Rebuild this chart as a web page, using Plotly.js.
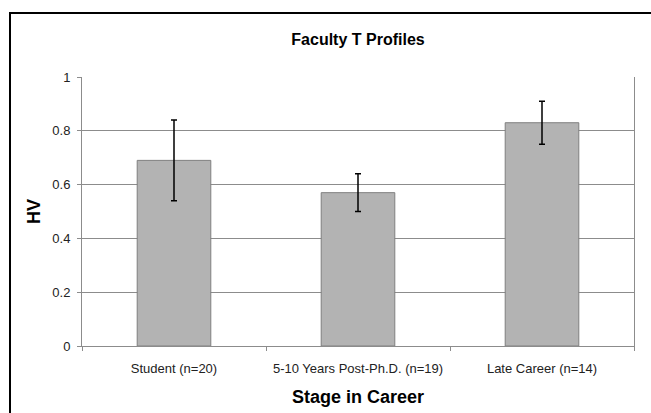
<!DOCTYPE html>
<html>
<head>
<meta charset="utf-8">
<script src="https://cdn.plot.ly/plotly-3.0.1.min.js"></script>
<style>
  html, body { margin: 0; padding: 0; background: #fff; }
  #wrap { position: relative; width: 651px; height: 413px; overflow: hidden; }
  #frame { position: absolute; left: 9px; top: 12px; width: 700px; height: 500px;
           border-left: 2px solid #000; border-top: 2px solid #000; pointer-events: none; }
  #chart { position: absolute; left: 0; top: 0; width: 651px; height: 413px; }
</style>
</head>
<body>
<div id="wrap">
  <div id="chart"></div>
  <div id="frame"></div>
</div>
<script>
const categories = ["Student (n=20)", "5-10 Years Post-Ph.D. (n=19)", "Late Career (n=14)"];
const hvMeans = [0.69, 0.57, 0.83];
const errUpper = [0.84, 0.64, 0.91];
const errLower = [0.54, 0.50, 0.75];
const yTicks = [0, 0.2, 0.4, 0.6, 0.8, 1];
const yTickLabels = ["0", "0.2", "0.4", "0.6", "0.8", "1"];

const plus = hvMeans.map((m, i) => +(errUpper[i] - m).toFixed(4));
const minus = hvMeans.map((m, i) => +(m - errLower[i]).toFixed(4));

const FONT = "Liberation Sans, Arial, sans-serif";

const trace = {
  type: "bar",
  x: categories,
  y: hvMeans,
  marker: { color: "#b3b3b3", line: { color: "#7f7f7f", width: 1 } },
  error_y: {
    type: "data", symmetric: false, array: plus, arrayminus: minus,
    color: "#000", thickness: 1.5, width: 3, visible: true
  },
  hoverinfo: "skip"
};

const layout = {
  width: 651, height: 413,
  margin: { l: 82, r: 17, t: 77, b: 67, pad: 0 },
  paper_bgcolor: "#fff", plot_bgcolor: "#fff",
  showlegend: false,
  bargap: 0.6,
  title: {
    text: "<b>Faculty T Profiles</b>",
    font: { family: FONT, size: 16, color: "#000" },
    x: 0.5, xref: "paper", xanchor: "center",
    y: 1 - 39 / 413, yref: "container", yanchor: "middle"
  },
  font: { family: FONT, size: 13, color: "#222" },
  xaxis: {
    type: "category",
    showline: true, linecolor: "#8c8c8c", linewidth: 1,
    ticks: "outside", tickson: "boundaries", ticklen: 4, tickcolor: "#8c8c8c",
    ticklabelstandoff: 10,
    tickfont: { family: FONT, size: 13, color: "#222" },
    showgrid: false, zeroline: false,
    title: { text: "<b>Stage in Career</b>", font: { family: FONT, size: 18, color: "#000" }, standoff: 15 }
  },
  yaxis: {
    range: [0, 1],
    tickvals: yTicks, ticktext: yTickLabels,
    showline: true, linecolor: "#8c8c8c", linewidth: 1, mirror: true,
    ticks: "outside", ticklen: 4, tickcolor: "#8c8c8c",
    ticklabelstandoff: 4,
    tickfont: { family: FONT, size: 13, color: "#222" },
    showgrid: true, gridcolor: "#8c8c8c", gridwidth: 1,
    zeroline: false,
    title: { text: "<b>HV</b>", font: { family: FONT, size: 18, color: "#000" }, standoff: 7 }
  }
};

Plotly.newPlot("chart", [trace], layout, { staticPlot: true, displayModeBar: false });
</script>
</body>
</html>
